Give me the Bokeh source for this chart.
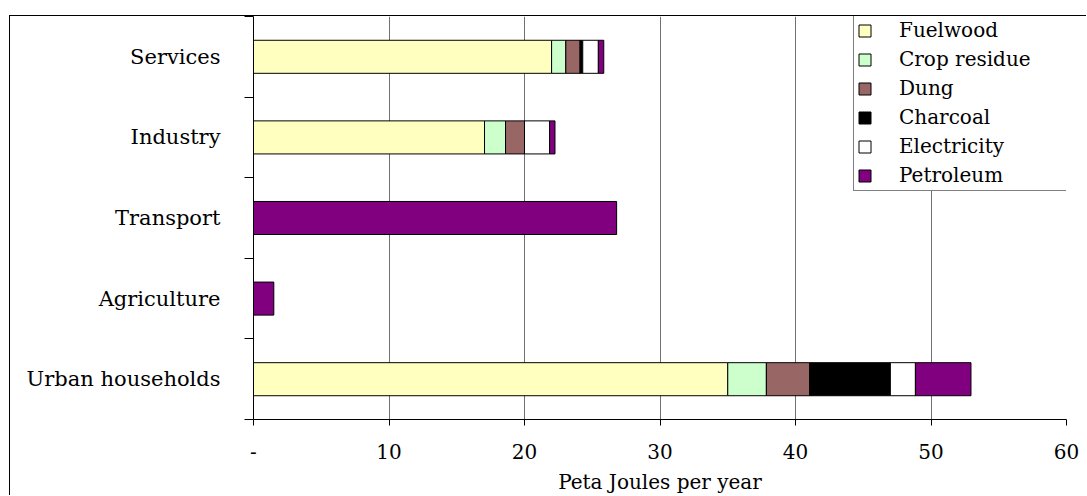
from bokeh.plotting import figure
from bokeh.models import ColumnDataSource, Range1d, FixedTicker
from bokeh.embed import file_html
from bokeh.resources import INLINE

# Energy use by sector and carrier (PJ per year)
categories = ["Services", "Industry", "Transport", "Agriculture", "Urban households"]
carriers = ["Fuelwood", "Crop residue", "Dung", "Charcoal", "Electricity", "Petroleum"]
fuelwood = [22.0, 17.05, 0.0, 0.0, 35.0]
crop_residue = [1.05, 1.55, 0.0, 0.0, 2.85]
dung = [1.05, 1.4, 0.0, 0.0, 3.2]
charcoal = [0.2, 0.0, 0.0, 0.0, 5.95]
electricity = [1.15, 1.85, 0.0, 0.0, 1.85]
petroleum = [0.4, 0.4, 26.8, 1.5, 4.1]
x_ticks = [0, 10, 20, 30, 40, 50, 60]

colors = ["#FFFFC0", "#CCFFCC", "#996666", "#000000", "#FFFFFF", "#800080"]
FONT = "DejaVu Serif"

n = len(categories)
centers = [n - 0.5 - i for i in range(n)]
bounds = list(range(n + 1))

source = ColumnDataSource(dict(
    y=centers,
    Fuelwood=fuelwood,
    **{"Crop residue": crop_residue},
    Dung=dung,
    Charcoal=charcoal,
    Electricity=electricity,
    Petroleum=petroleum,
))

p = figure(
    width=1077, height=480,
    x_range=Range1d(0, 60), y_range=Range1d(0, n),
    output_backend="svg", toolbar_location=None,
    min_border_left=243, min_border_right=21, min_border_top=0, min_border_bottom=77,
)
p.styles = {
    "margin-left": "9px", "margin-top": "15px",
    "border-left": "1px solid black", "border-top": "1px solid black",
}
p.outline_line_color = None
p.background_fill_color = "white"
p.border_fill_color = "white"

p.hbar_stack(carriers, y="y", height=0.41, source=source,
             fill_color=colors, line_color="black", line_width=1,
             legend_label=carriers)

# x axis
xa = p.xaxis[0]
xa.ticker = FixedTicker(ticks=x_ticks)
xa.major_label_overrides = {0: "-"}
xa.major_tick_out = 6
xa.major_tick_in = 0
xa.minor_tick_line_color = None
xa.axis_line_color = "black"
xa.major_tick_line_color = "black"
xa.major_label_text_font = FONT
xa.major_label_text_font_size = "20px"
xa.major_label_text_color = "black"
xa.major_label_standoff = 18
xa.axis_label = "Peta Joules per year"
xa.axis_label_text_font = FONT
xa.axis_label_text_font_size = "20px"
xa.axis_label_text_font_style = "normal"
xa.axis_label_text_color = "black"
xa.axis_label_standoff = 8

# y axis: labels centred on bars, ticks on band boundaries
ya = p.yaxis[0]
ya.ticker = FixedTicker(ticks=centers, minor_ticks=bounds)
ya.major_label_overrides = {c: name for c, name in zip(centers, categories)}
ya.major_tick_line_color = None
ya.major_tick_out = 0
ya.major_tick_in = 0
ya.minor_tick_out = 9
ya.minor_tick_in = 0
ya.minor_tick_line_color = "black"
ya.axis_line_color = "black"
ya.major_label_text_font = FONT
ya.major_label_text_font_size = "21px"
ya.major_label_text_color = "black"
ya.major_label_standoff = 24

p.xgrid.ticker = FixedTicker(ticks=x_ticks[1:])
p.xgrid.grid_line_color = "#707070"
p.xgrid.grid_line_width = 1
p.ygrid.grid_line_color = None

lg = p.legend[0]
lg.location = (600, 228)
lg.margin = 0
lg.padding = 3
lg.spacing = 5
lg.glyph_width = 15
lg.glyph_height = 15
lg.label_height = 22
lg.label_standoff = 27
lg.label_width = 178
lg.label_text_font = FONT
lg.label_text_font_size = "20px"
lg.label_text_color = "black"
lg.border_line_color = "black"
lg.border_line_width = 1
lg.background_fill_color = "white"
lg.background_fill_alpha = 1.0

open("out.html", "w").write(file_html(p, INLINE))
